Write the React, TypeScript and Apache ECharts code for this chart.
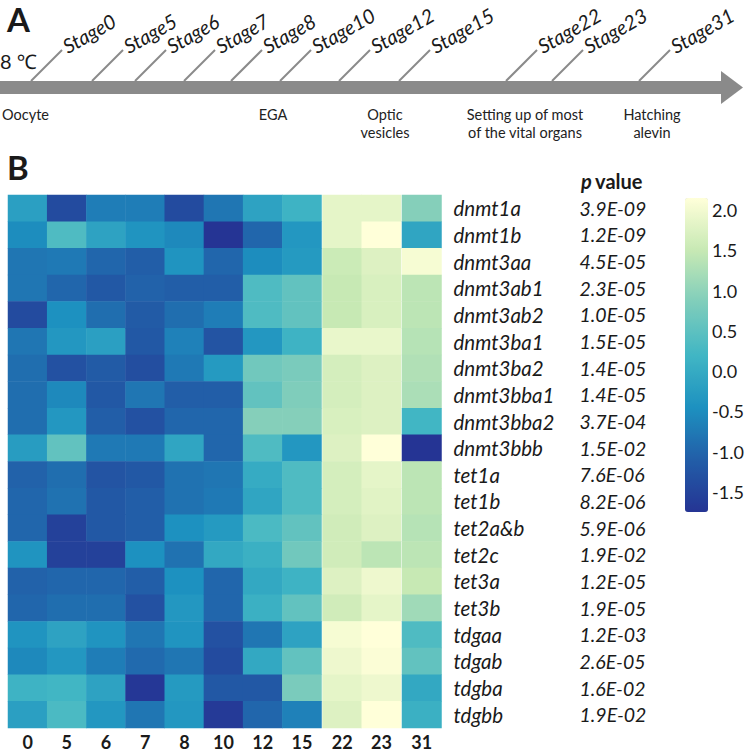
import React, { useEffect, useRef } from 'react';
import * as echarts from 'echarts';

// ---------- data ----------
const stages = ['0', '5', '6', '7', '8', '10', '12', '15', '22', '23', '31'];
const stageGroups = [
  ['0', '5', '6', '7', '8', '10', '12', '15'],
  ['22', '23'],
  ['31'],
];
const genes = [
  'dnmt1a', 'dnmt1b', 'dnmt3aa', 'dnmt3ab1', 'dnmt3ab2', 'dnmt3ba1', 'dnmt3ba2',
  'dnmt3bba1', 'dnmt3bba2', 'dnmt3bbb', 'tet1a', 'tet1b', 'tet2a&b', 'tet2c',
  'tet3a', 'tet3b', 'tdgaa', 'tdgab', 'tdgba', 'tdgbb',
];
const pValues = [
  '3.9E-09', '1.2E-09', '4.5E-05', '2.3E-05', '1.0E-05', '1.5E-05', '1.4E-05',
  '1.4E-05', '3.7E-04', '1.5E-02', '7.6E-06', '8.2E-06', '5.9E-06', '1.9E-02',
  '1.2E-05', '1.9E-05', '1.2E-03', '2.6E-05', '1.6E-02', '1.9E-02',
];
// z-scores per gene, columns follow `stages`
const zScores: number[][] = [
  [-0.2, -1.4, -0.7, -0.7, -1.4, -0.8, -0.15, 0.15, 1.85, 1.85, 0.9],
  [-0.5, 0.35, -0.15, -0.4, -0.55, -1.75, -1.0, -0.35, 1.85, 2.15, -0.1],
  [-0.8, -0.75, -1.0, -1.1, -0.4, -1.0, -0.5, -0.3, 1.55, 1.75, 2.05],
  [-0.8, -1.0, -1.2, -1.05, -1.1, -1.1, 0.35, 0.55, 1.5, 1.7, 1.4],
  [-1.4, -0.45, -0.9, -1.15, -0.9, -0.7, 0.35, 0.55, 1.5, 1.7, 1.4],
  [-0.8, -0.35, -0.2, -1.2, -0.65, -1.25, -0.35, 0.15, 1.9, 1.9, 1.35],
  [-0.9, -1.3, -1.15, -1.35, -0.75, -0.3, 0.7, 0.8, 1.65, 1.75, 1.3],
  [-0.9, -0.55, -1.2, -0.8, -1.1, -1.1, 0.55, 0.85, 1.65, 1.75, 1.25],
  [-0.9, -0.35, -1.1, -1.3, -1.0, -1.0, 0.9, 0.9, 1.7, 1.75, 0.2],
  [-0.25, 0.55, -0.75, -0.75, -0.1, -1.0, 0.35, -0.35, 1.75, 2.15, -1.75],
  [-1.05, -0.9, -1.25, -1.2, -0.85, -0.8, 0.0, 0.35, 1.65, 1.85, 1.4],
  [-1.0, -0.85, -1.2, -1.1, -0.85, -0.75, -0.1, 0.35, 1.65, 1.8, 1.4],
  [-1.0, -1.55, -1.2, -1.1, -0.45, -0.3, 0.3, 0.55, 1.6, 1.75, 1.35],
  [-0.4, -1.55, -1.55, -0.45, -0.85, -0.05, 0.1, 0.7, 1.6, 1.4, 1.4],
  [-1.05, -1.0, -1.0, -1.1, -0.45, -1.0, -0.05, 0.15, 1.75, 1.95, 1.5],
  [-1.0, -0.9, -0.9, -1.3, -0.35, -1.0, 0.1, 0.55, 1.6, 1.85, 1.15],
  [-0.4, -0.15, -0.4, -0.8, -0.4, -1.3, -0.8, -0.15, 2.05, 2.15, 0.35],
  [-0.55, -0.35, -0.7, -0.95, -0.8, -1.4, -0.05, 0.55, 1.95, 2.1, 0.55],
  [0.15, 0.2, -0.15, -1.7, -0.3, -1.2, -1.2, 0.8, 1.85, 1.95, -0.05],
  [-0.2, 0.3, -0.35, -0.8, -0.35, -1.65, -1.0, -0.65, 1.75, 2.15, 0.1],
];
const colorbarTicks = [-1.5, -1.0, -0.5, 0.0, 0.5, 1.0, 1.5, 2.0];
const colorMin = -1.75;
const colorMax = 2.15;

// timeline (panel A)
const stageNames = ['Stage0', 'Stage5', 'Stage6', 'Stage7', 'Stage8', 'Stage10', 'Stage12', 'Stage15', 'Stage22', 'Stage23', 'Stage31'];
const eventLabels = ['Oocyte', 'EGA', 'Optic\nvesicles', 'Setting up of most\nof the vital organs', 'Hatching\nalevin'];

// ---------- layout (not data) ----------
const stageTickX = [31, 92, 135, 184, 231, 280, 339, 399, 506, 552, 639];
const eventX = [2, 273, 385, 525, 652];
const eventAlign = ['left', 'center', 'center', 'center', 'center'];
const FONT = 'Lato, "Noto Sans", sans-serif';
const GRAY = '#8a8a8a';
const TXT = '#1a1a1a';

const HM_TOP = 195;
const HM_H = 533;
const gridBoxes = [
  { left: 8, width: 313.5 },
  { left: 322.5, width: 78.5 },
  { left: 402, width: 39.5 },
];

export default function App() {
  const ref = useRef<HTMLDivElement>(null);

  useEffect(() => {
    if (!ref.current) return;
    const chart = echarts.init(ref.current, undefined, { renderer: 'svg' });

    const grids: any[] = gridBoxes.map((g) => ({ left: g.left, top: HM_TOP, width: g.width, height: HM_H }));
    grids.push({ left: 685, top: 198, width: 23, height: 314 });

    const xAxes: any[] = stageGroups.map((cols, i) => ({
      type: 'category',
      gridIndex: i,
      data: cols,
      axisLine: { show: false },
      axisTick: { show: false },
      splitLine: { show: false },
      axisLabel: { fontFamily: FONT, fontWeight: 'bold', fontSize: 18, color: TXT, margin: 5 },
    }));
    xAxes.push({ type: 'value', gridIndex: 3, show: false });

    const hiddenY = (i: number) => ({
      type: 'category',
      gridIndex: i,
      data: genes,
      inverse: true,
      show: false,
    });
    const yAxes: any[] = [
      hiddenY(0),
      hiddenY(1),
      {
        type: 'category',
        gridIndex: 2,
        data: genes,
        inverse: true,
        position: 'right',
        axisLine: { show: false },
        axisTick: { show: false },
        splitLine: { show: false },
        axisLabel: { fontFamily: FONT, fontStyle: 'italic', fontSize: 20.5, color: TXT, margin: 12 },
      },
      {
        type: 'category',
        gridIndex: 2,
        data: pValues,
        inverse: true,
        position: 'right',
        offset: 126,
        axisLine: { show: false },
        axisTick: { show: false },
        splitLine: { show: false },
        axisLabel: { fontFamily: FONT, fontStyle: 'italic', fontSize: 19.5, color: TXT, margin: 12 },
      },
      {
        type: 'value',
        gridIndex: 3,
        min: colorMin,
        max: colorMax,
        position: 'right',
        axisLine: { show: false },
        axisTick: { show: false },
        splitLine: { show: false },
        axisLabel: {
          customValues: colorbarTicks,
          formatter: (v: number) => v.toFixed(1),
          fontFamily: FONT,
          fontSize: 18,
          color: TXT,
          margin: 4,
        },
      },
    ];

    const series: any[] = stageGroups.map((cols, gi) => {
      const data: any[] = [];
      cols.forEach((s, xi) => {
        const ci = stages.indexOf(s);
        genes.forEach((_, yi) => {
          data.push([xi, yi, zScores[yi][ci]]);
        });
      });
      return {
        type: 'heatmap',
        xAxisIndex: gi,
        yAxisIndex: gi,
        data,
        itemStyle: { borderWidth: 0 },
        emphasis: { disabled: true },
      };
    });

    const graphics: any[] = [
      { type: 'text', left: 7, top: 2, style: { text: 'A', font: `bold 33px ${FONT}`, fill: TXT } },
      { type: 'text', left: 7, top: 150, style: { text: 'B', font: `bold 33px ${FONT}`, fill: TXT } },
      { type: 'text', x: 0, y: 61, style: { text: '8 ℃', font: `20px ${FONT}`, fill: TXT, textVerticalAlign: 'middle' } },
      { type: 'rect', shape: { x: 0, y: 81, width: 724, height: 13 }, style: { fill: GRAY } },
      { type: 'polygon', shape: { points: [[721, 71], [743, 87.5], [721, 104]] }, style: { fill: GRAY } },
      {
        type: 'text',
        x: 581,
        y: 181,
        style: {
          text: '{p|p} {v|value}',
          textVerticalAlign: 'middle',
          rich: {
            p: { font: `italic bold 20px ${FONT}`, fill: TXT },
            v: { font: `bold 20px ${FONT}`, fill: TXT },
          },
        },
      },
    ];
    stageTickX.forEach((x, i) => {
      graphics.push({
        type: 'line',
        shape: { x1: x, y1: 81, x2: x + 31, y2: 50 },
        style: { stroke: GRAY, lineWidth: 2 },
      });
      graphics.push({
        type: 'text',
        x: x + 38,
        y: 56,
        rotation: 0.52,
        style: {
          text: stageNames[i],
          font: `italic 20px ${FONT}`,
          fill: TXT,
          textAlign: 'left',
          textVerticalAlign: 'bottom',
        },
      });
    });
    eventLabels.forEach((t, i) => {
      graphics.push({
        type: 'text',
        x: eventX[i],
        y: 105,
        style: {
          text: t,
          font: `14.5px ${FONT}`,
          lineHeight: 18,
          fill: '#222',
          textAlign: eventAlign[i],
          textVerticalAlign: 'top',
        },
      });
    });

    chart.setOption({
      animation: false,
      grid: grids,
      xAxis: xAxes,
      yAxis: yAxes,
      visualMap: {
        type: 'continuous',
        min: colorMin,
        max: colorMax,
        seriesIndex: [0, 1, 2],
        calculable: false,
        hoverLink: false,
        left: 685,
        top: 198,
        itemWidth: 23,
        itemHeight: 314,
        padding: 0,
        text: ['', ''],
        showLabel: false,
        inRange: {
          color: ['#253494', '#225ea8', '#1d91c0', '#41b6c4', '#7fcdbb', '#c7e9b4', '#ffffd9'],
        },
      },
      series,
      graphic: graphics,
    });

    return () => chart.dispose();
  }, []);

  return <div ref={ref} style={{ width: 750, height: 755, position: 'absolute', left: 0, top: 0 }} />;
}
